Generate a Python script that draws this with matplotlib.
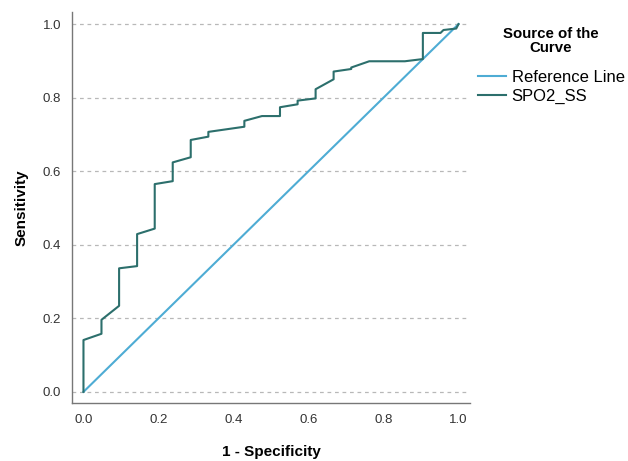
import matplotlib
matplotlib.use("Agg")
import matplotlib.pyplot as plt

plt.rcParams["font.family"] = ["Liberation Sans", "DejaVu Sans"]

# ROC points (1 - specificity, sensitivity)
fpr = [0.0, 0.0, 0.048, 0.048, 0.095, 0.095, 0.143, 0.143, 0.190, 0.190,
       0.238, 0.238, 0.286, 0.286, 0.333, 0.333, 0.429, 0.429, 0.476, 0.524,
       0.524, 0.571, 0.571, 0.619, 0.619, 0.667, 0.667, 0.714, 0.714, 0.762,
       0.857, 0.905, 0.905, 0.952, 0.960, 0.994, 1.0]
tpr = [0.0, 0.141, 0.158, 0.196, 0.234, 0.336, 0.342, 0.429, 0.444, 0.565,
       0.573, 0.624, 0.638, 0.685, 0.694, 0.707, 0.721, 0.737, 0.750, 0.750,
       0.774, 0.782, 0.792, 0.798, 0.823, 0.850, 0.871, 0.878, 0.882, 0.899,
       0.899, 0.905, 0.976, 0.976, 0.984, 0.988, 1.0]
ref_x = [0.0, 1.0]
ref_y = [0.0, 1.0]
ticks = [0.0, 0.2, 0.4, 0.6, 0.8, 1.0]

fig = plt.figure(figsize=(6.28, 4.61), dpi=100)
ax = fig.add_axes([0.115, 0.126, 0.633, 0.848])

for t in ticks:
    ax.axhline(t, color="#b8b8b8", linestyle=(0, (3, 3)), linewidth=0.9, zorder=0)

ax.plot(ref_x, ref_y, color="#4eacd4", linewidth=1.5, label="Reference Line")
ax.plot(fpr, tpr, color="#2c6f6c", linewidth=1.5, label="SPO2_SS")

ax.set_xlim(-0.03, 1.03)
ax.set_ylim(-0.03, 1.033)
ax.set_xticks(ticks)
ax.set_yticks(ticks)
ax.set_xticklabels([f"{t:.1f}" for t in ticks])
ax.set_yticklabels([f"{t:.1f}" for t in ticks])
ax.tick_params(length=0, labelsize=9.5, colors="#333333", pad=8)

for side in ["top", "right"]:
    ax.spines[side].set_visible(False)
for side in ["left", "bottom"]:
    ax.spines[side].set_color("#777777")
    ax.spines[side].set_linewidth(1.0)

ax.set_xlabel("1 - Specificity", fontsize=11, fontweight="bold", labelpad=14)
ax.set_ylabel("Sensitivity", fontsize=11, fontweight="bold", labelpad=10)

# legend title drawn separately so the gap to the entries matches
fig.text(0.877, 0.911, "Source of the\nCurve", ha="center", va="center",
         fontsize=10.8, fontweight="bold", multialignment="center", linespacing=0.95)
fig.legend(loc="upper left", bbox_to_anchor=(0.737, 0.881), frameon=False,
           fontsize=12, handlelength=1.68, handletextpad=0.35, labelspacing=0.25)

fig.savefig("out.png", dpi=100)
